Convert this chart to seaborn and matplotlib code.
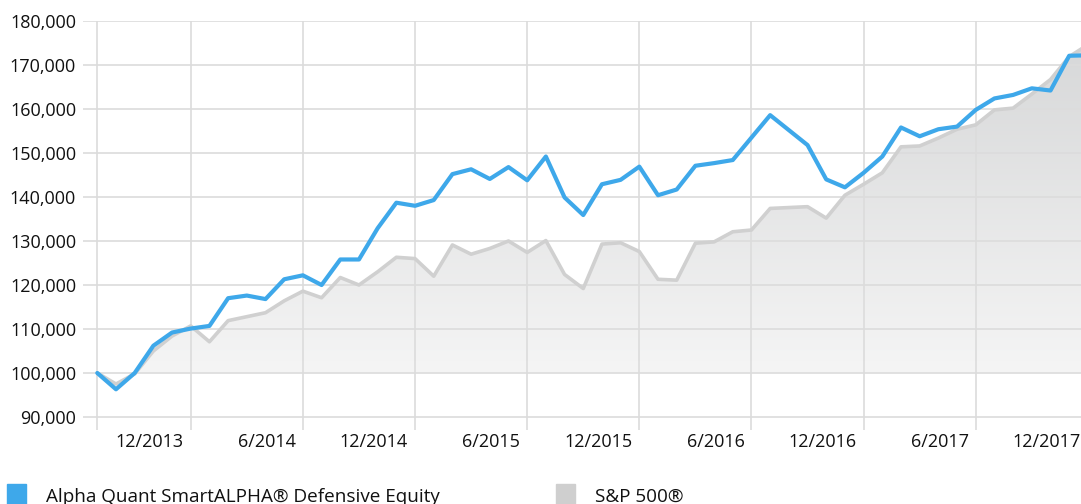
import numpy as np
import pandas as pd
import matplotlib
matplotlib.use("Agg")
import matplotlib.pyplot as plt
from matplotlib.colors import LinearSegmentedColormap
from matplotlib.patches import Rectangle
from matplotlib.transforms import ScaledTranslation
import seaborn as sns


# ---------- data (growth of 100,000, month-end values from 7/2013) ----------
fund_values = [
    100000, 96300, 100000, 106200, 109200, 110100, 110700, 117000, 117600, 116800,
    121300, 122200, 120000, 125800, 125800, 132900, 138700, 138000, 139300, 145200,
    146300, 144100, 146800, 143800, 149200, 139900, 135900, 142900, 143900, 146900,
    140400, 141700, 147100, 147700, 148400, 153500, 158600, 155200, 151800, 144000,
    142200, 145500, 149200, 155800, 153800, 155400, 156000, 159800, 162400, 163200,
    164700, 164200, 172100, 172200,
]
sp500_values = [
    100000, 97500, 99800, 105000, 108400, 110700, 107100, 111900, 112800, 113700,
    116400, 118600, 117100, 121700, 120000, 123000, 126300, 126000, 122000, 129100,
    127000, 128300, 130000, 127400, 130100, 122400, 119200, 129300, 129600, 127600,
    121300, 121100, 129500, 129800, 132100, 132500, 137400, 137600, 137800, 135200,
    140400, 142900, 145500, 151400, 151600, 153400, 155400, 156400, 159800, 160200,
    163400, 166700, 171900, 174600,
]
x_tick_months = [0, 5, 11, 17, 23, 29, 35, 41, 47, 53]
x_tick_labels = ["", "12/2013", "6/2014", "12/2014", "6/2015", "12/2015",
                 "6/2016", "12/2016", "6/2017", "12/2017"]
y_ticks = [90000, 100000, 110000, 120000, 130000, 140000, 150000, 160000, 170000, 180000]
series_names = ["Alpha Quant SmartALPHA\u00ae Defensive Equity", "S&P 500\u00ae"]
baseline = 100000

BLUE = "#3ea8ea"
GREY_LINE = "#d0d0d0"
GRID = "#dcdcdc"
TEXT = "#111111"
FS = 13

df = pd.DataFrame({
    "month": np.arange(len(fund_values)),
    "fund": fund_values,
    "sp500": sp500_values,
})

sns.set_style("white")
plt.rcParams["font.family"] = ["Open Sans", "DejaVu Sans"]

W, H, DPI = 1081, 504, 100
fig = plt.figure(figsize=(W / DPI, H / DPI), dpi=DPI)

# axes placed in pixel terms; it runs a little past the right edge on purpose
left_px, right_px, top_px, bottom_px = 83, 1093.5, 21, 430
ax = fig.add_axes([left_px / W, (H - bottom_px) / H,
                   (right_px - left_px) / W, (bottom_px - top_px) / H])

xlim = (-0.765, 53.3)
ylim = (87045, 180000)

# gradient fill between S&P line and the 100,000 baseline
poly = ax.fill_between(df["month"], df["sp500"], baseline, color="none", zorder=1)
cmap = LinearSegmentedColormap.from_list("fill", ["#f5f5f5", "#d5d6d7"])
grad = np.linspace(0, 1, 256).reshape(-1, 1)
img = ax.imshow(grad, cmap=cmap, aspect="auto", origin="lower",
                extent=[xlim[0], xlim[1], baseline, ylim[1]], zorder=1)
img.set_clip_path(poly.get_paths()[0], transform=ax.transData)

sns.lineplot(data=df, x="month", y="sp500", color=GREY_LINE, linewidth=2.6,
             ax=ax, zorder=3)
sns.lineplot(data=df, x="month", y="fund", color=BLUE, linewidth=3.0,
             ax=ax, zorder=4)

ax.set_xlim(*xlim)
ax.set_ylim(*ylim)
ax.set_xlabel("")
ax.set_ylabel("")

ax.set_axisbelow("line")
ax.grid(True, color=GRID, linewidth=1.2)
for s in ax.spines.values():
    s.set_visible(False)

ax.set_yticks(y_ticks)
ax.set_yticklabels([f"{v:,}" for v in y_ticks])
ax.set_xticks(x_tick_months)
ax.set_xticklabels(x_tick_labels, ha="right")
ax.tick_params(axis="both", length=0, labelsize=FS, labelcolor=TEXT)
ax.tick_params(axis="y", pad=5)
ax.tick_params(axis="x", pad=2)

# x labels sit just left of their gridline
shift = ScaledTranslation(-7 / DPI, 0, fig.dpi_scale_trans)
for lbl in ax.get_xticklabels():
    lbl.set_transform(lbl.get_transform() + shift)

# legend: coloured squares + names along the bottom edge
legend_items = [(7, BLUE, 46), (556, "#cfcfcf", 595)]
for (sq_x, col, tx), name in zip(legend_items, series_names):
    fig.patches.append(Rectangle((sq_x / W, 0), 19 / W, 20 / H, color=col,
                                 transform=fig.transFigure, figure=fig))
    fig.text(tx / W, 7 / H, name, fontsize=13.6, color=TEXT,
             va="center", ha="left")

fig.savefig("out.png", dpi=DPI)
